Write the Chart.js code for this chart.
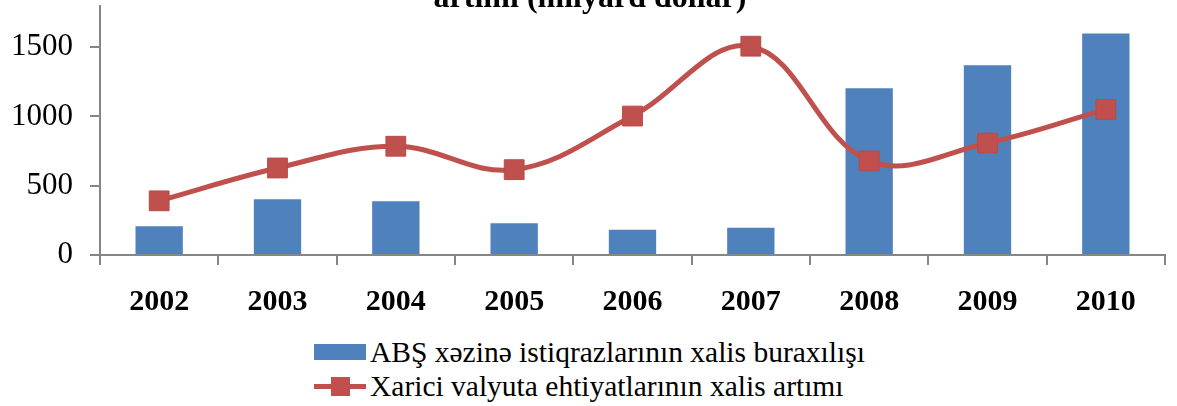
<!DOCTYPE html>
<html>
<head>
    <meta charset="UTF-8">
    <title>ABŞ xəzinə istiqrazları və valyuta ehtiyatları</title>
    <script src="https://cdn.jsdelivr.net/npm/chart.js"></script>
    <style>
        html, body { margin: 0; padding: 0; background: #fff; overflow: hidden; width: 1177px; height: 406px; }
        #wrap { position: absolute; left: 0; top: -30px; width: 1180px; height: 345px; }
        .legend { position: absolute; left: 314px; top: 335px; font-family: 'Liberation Serif', 'Times New Roman', serif; font-size: 29.5px; color: #000; }
        .row { display: flex; align-items: center; height: 34px; white-space: nowrap; }
        .sw { position: relative; width: 52px; height: 20px; margin-right: 4px; flex: none; }
        .bar { position: absolute; left: 0; top: 2px; width: 52px; height: 16px; background: #4F81BD; }
        .ln { position: absolute; left: 0; top: 7.5px; width: 52px; height: 5px; background: #C0504D; }
        .mk { position: absolute; left: 16.5px; top: 0.5px; width: 19px; height: 19px; background: #C0504D; }
    </style>
</head>
<body>
    <div id="wrap"><canvas id="myChart"></canvas></div>

    <div class="legend">
        <div class="row"><div class="sw"><div class="bar"></div></div><span id="lab0"></span></div>
        <div class="row"><div class="sw"><div class="ln"></div><div class="mk"></div></div><span id="lab1"></span></div>
    </div>

    <script>
    // values (milyard dollar)
    const years = ['2002', '2003', '2004', '2005', '2006', '2007', '2008', '2009', '2010'];
    const treasuryNet = [207, 403, 388, 229, 182, 196, 1204, 1370, 1598];
    const reserveGrowth = [391, 628, 785, 616, 1003, 1507, 679, 808, 1051];
    const yTicks = [0, 500, 1000, 1500];
    const seriesNames = ['ABŞ xəzinə istiqrazlarının xalis buraxılışı', 'Xarici valyuta ehtiyatlarının xalis artımı'];
    const titleText = 'artımı (milyard dollar)';

    document.getElementById('lab0').textContent = seriesNames[0];
    document.getElementById('lab1').textContent = seriesNames[1];

    const serif = "'Liberation Serif', 'Times New Roman', serif";
    const axisGrey = '#868686';

    const ctx = document.getElementById('myChart').getContext('2d');
    const chart = new Chart(ctx, {
        type: 'bar',
        data: {
            labels: years,
            datasets: [{
                type: 'line',
                label: seriesNames[1],
                data: reserveGrowth,
                order: 0,
                borderColor: '#C0504D',
                borderWidth: 5,
                tension: 0.38,
                fill: false,
                pointStyle: 'rect',
                pointRadius: 14,
                pointHoverRadius: 14,
                pointBackgroundColor: '#C0504D',
                pointBorderColor: '#B94B48',
                pointBorderWidth: 1
            }, {
                label: seriesNames[0],
                data: treasuryNet,
                order: 1,
                backgroundColor: '#4F81BD',
                categoryPercentage: 1,
                barPercentage: 0.4
            }]
        },
        options: {
            responsive: true,
            maintainAspectRatio: false,
            animation: false,
            plugins: {
                legend: { display: false },
                tooltip: { enabled: false },
                title: {
                    display: true,
                    text: titleText,
                    color: '#000',
                    font: { family: serif, size: 32, weight: 'bold', lineHeight: 1.2 },
                    padding: { top: 7.6, bottom: -12 }
                }
            },
            scales: {
                x: {
                    offset: true,
                    border: { display: true, color: axisGrey, width: 2 },
                    grid: { offset: true, drawOnChartArea: false, drawTicks: true, tickLength: 10, color: axisGrey, lineWidth: 2 },
                    ticks: { color: '#000', font: { family: serif, size: 30, weight: 'bold' }, padding: 19, maxRotation: 0, autoSkip: false },
                    afterFit: (scale) => { scale.height = 60; }
                },
                y: {
                    min: 0,
                    max: 1800,
                    border: { display: true, color: axisGrey, width: 2 },
                    grid: { drawOnChartArea: false, drawTicks: true, tickLength: 10, color: axisGrey, lineWidth: 2 },
                    ticks: { color: '#000', font: { family: serif, size: 31 }, padding: 17, callback: (v) => String(v) },
                    afterBuildTicks: (axis) => { axis.ticks = yTicks.map((v) => ({ value: v })); },
                    afterFit: (scale) => { scale.width = 100; }
                }
            }
        }
    });
    </script>
</body>
</html>
